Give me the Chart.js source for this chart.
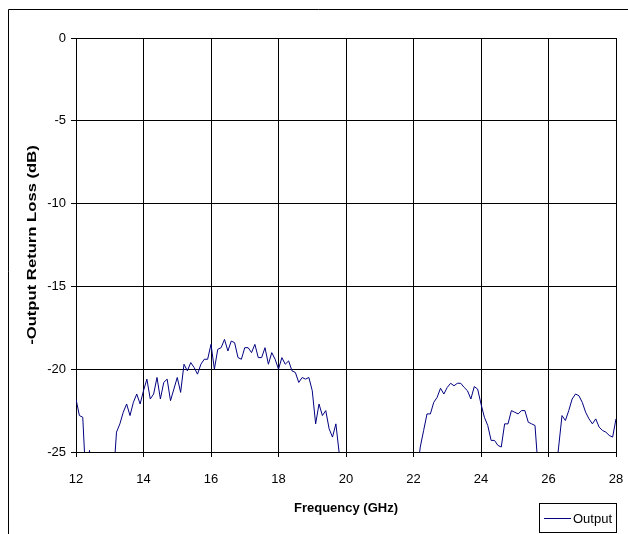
<!DOCTYPE html>
<html lang="en">
  <head>
    <meta charset="UTF-8" />
    <title>Output Return Loss</title>
    <script src="https://cdn.jsdelivr.net/npm/chart.js"></script>
    <style>
      body { margin: 0; background: #fff; }
      #box { width: 628px; height: 534px; position: relative; }
    </style>
  </head>
  <body>
    <div id="box"><canvas id="rlChart"></canvas></div>

    <script>
      // sweep: 12 to 28 GHz, 0.1 GHz steps
      const freqStart = 12;
      const freqStep = 0.1;
      // measured -output return loss (dB), one row per GHz
      const outputLoss = [
        -21.8, -22.8, -22.9, -27.0, -24.9, -27.5, -28.0, -28.5, -28.0, -27.5, // 12
        -28.0, -26.8, -23.8, -23.3, -22.6, -22.1, -22.8, -22.0, -21.5, -22.1, // 13
        -21.3, -20.6, -21.8, -21.5, -20.5, -21.8, -20.8, -20.6, -21.9, -21.2, // 14
        -20.5, -21.4, -19.7, -20.1, -19.6, -19.9, -20.3, -19.7, -19.4, -19.4, // 15
        -18.5, -20.0, -18.8, -18.7, -18.2, -18.9, -18.3, -18.4, -19.3, -19.4, // 16
        -18.7, -18.7, -19.0, -18.5, -19.3, -19.3, -18.7, -19.7, -19.0, -19.4, // 17
        -20.0, -19.3, -19.7, -19.5, -20.1, -20.2, -20.8, -20.5, -20.6, -20.5, // 18
        -21.3, -23.3, -22.1, -22.8, -22.5, -23.6, -24.1, -23.3, -25.1, -27.0, // 19
        -28.0, -28.5, -29.0, -28.5, -29.0, -29.5, -29.0, -30.0, -29.5, -30.0, // 20
        -30.5, -30.0, -30.5, -31.0, -30.0, -29.5, -29.0, -28.5, -28.0, -27.5, // 21
        -27.5, -26.5, -24.7, -23.7, -22.7, -22.7, -22.0, -21.7, -21.15, -21.5, // 22
        -21.1, -20.85, -21.0, -20.85, -20.85, -21.1, -21.3, -21.8, -21.05, -21.2, // 23
        -22.1, -22.9, -23.4, -24.3, -24.3, -24.6, -24.7, -23.3, -23.3, -22.5, // 24
        -22.6, -22.7, -22.5, -22.5, -23.2, -23.3, -23.4, -26.2, -28.0, -28.5, // 25
        -28.0, -27.5, -26.8, -24.7, -22.8, -23.1, -22.5, -21.8, -21.5, -21.6, // 26
        -22.0, -22.6, -23.0, -23.3, -23.0, -23.5, -23.7, -23.8, -24.0, -24.1, // 27
        -23.0 // 28
      ];
      const xTicks = [12, 14, 16, 18, 20, 22, 24, 26, 28];
      const yTicks = [0, -5, -10, -15, -20, -25];
      const yTitle = "-Output Return Loss (dB)";

      const points = outputLoss.map((v, i) => ({
        x: +(freqStart + i * freqStep).toFixed(1),
        y: v,
      }));

      const font = "'Liberation Sans', Arial, sans-serif";
      Chart.defaults.font.family = font;
      Chart.defaults.color = "#000";

      // outer frame, stretched y title, little boxed legend
      const frame = {
        id: "frame",
        afterDraw(chart) {
          const ctx = chart.ctx;
          const area = chart.chartArea;
          ctx.save();
          ctx.strokeStyle = "#000";
          ctx.lineWidth = 1;
          ctx.beginPath();
          ctx.moveTo(8.5, 534);
          ctx.lineTo(8.5, 9.5);
          ctx.lineTo(628, 9.5);
          ctx.stroke();

          ctx.save();
          ctx.translate(32, (area.top + area.bottom) / 2);
          ctx.rotate(-Math.PI / 2);
          ctx.scale(1.28, 1);
          ctx.font = "bold 13px " + font;
          ctx.textAlign = "center";
          ctx.textBaseline = "middle";
          ctx.fillStyle = "#000";
          ctx.fillText(yTitle, 0, 0);
          ctx.restore();

          ctx.strokeRect(539.5, 503.5, 77, 29);
          ctx.strokeStyle = chart.data.datasets[0].borderColor;
          ctx.beginPath();
          ctx.moveTo(544, 518.5);
          ctx.lineTo(571, 518.5);
          ctx.stroke();
          ctx.fillStyle = "#000";
          ctx.font = "13px " + font;
          ctx.textBaseline = "middle";
          ctx.fillText(chart.data.datasets[0].label, 573, 519);
          ctx.restore();
        },
      };

      new Chart(document.getElementById("rlChart"), {
        type: "line",
        data: {
          datasets: [
            {
              label: "Output",
              data: points,
              borderColor: "#000080",
              borderWidth: 1,
              pointRadius: 0,
              tension: 0,
              clip: 0,
            },
          ],
        },
        options: {
          responsive: true,
          maintainAspectRatio: false,
          animation: false,
          layout: { padding: { top: 38, right: 12, left: 0, bottom: 0 } },
          plugins: { legend: { display: false }, tooltip: { enabled: false } },
          scales: {
            x: {
              type: "linear",
              min: 12,
              max: 28,
              afterBuildTicks: (s) => { s.ticks = xTicks.map((v) => ({ value: v })); },
              afterFit: (s) => {
                s.height = 82;
                s.paddingLeft = 0;
                s.paddingRight = 0;
              },
              grid: { color: "#000", tickLength: 5 },
              border: { color: "#000" },
              ticks: { font: { size: 13 }, padding: 15, maxRotation: 0 },
              title: {
                display: true,
                text: "Frequency (GHz)",
                font: { size: 13, weight: "bold" },
                padding: { bottom: 18 },
              },
            },
            y: {
              min: -25,
              max: 0,
              afterBuildTicks: (s) => { s.ticks = yTicks.map((v) => ({ value: v })); },
              afterFit: (s) => { s.width = 76; },
              grid: { color: "#000", tickLength: 5 },
              border: { color: "#000" },
              ticks: { font: { size: 13 }, padding: 5 },
            },
          },
        },
        plugins: [frame],
      });
    </script>
  </body>
</html>
